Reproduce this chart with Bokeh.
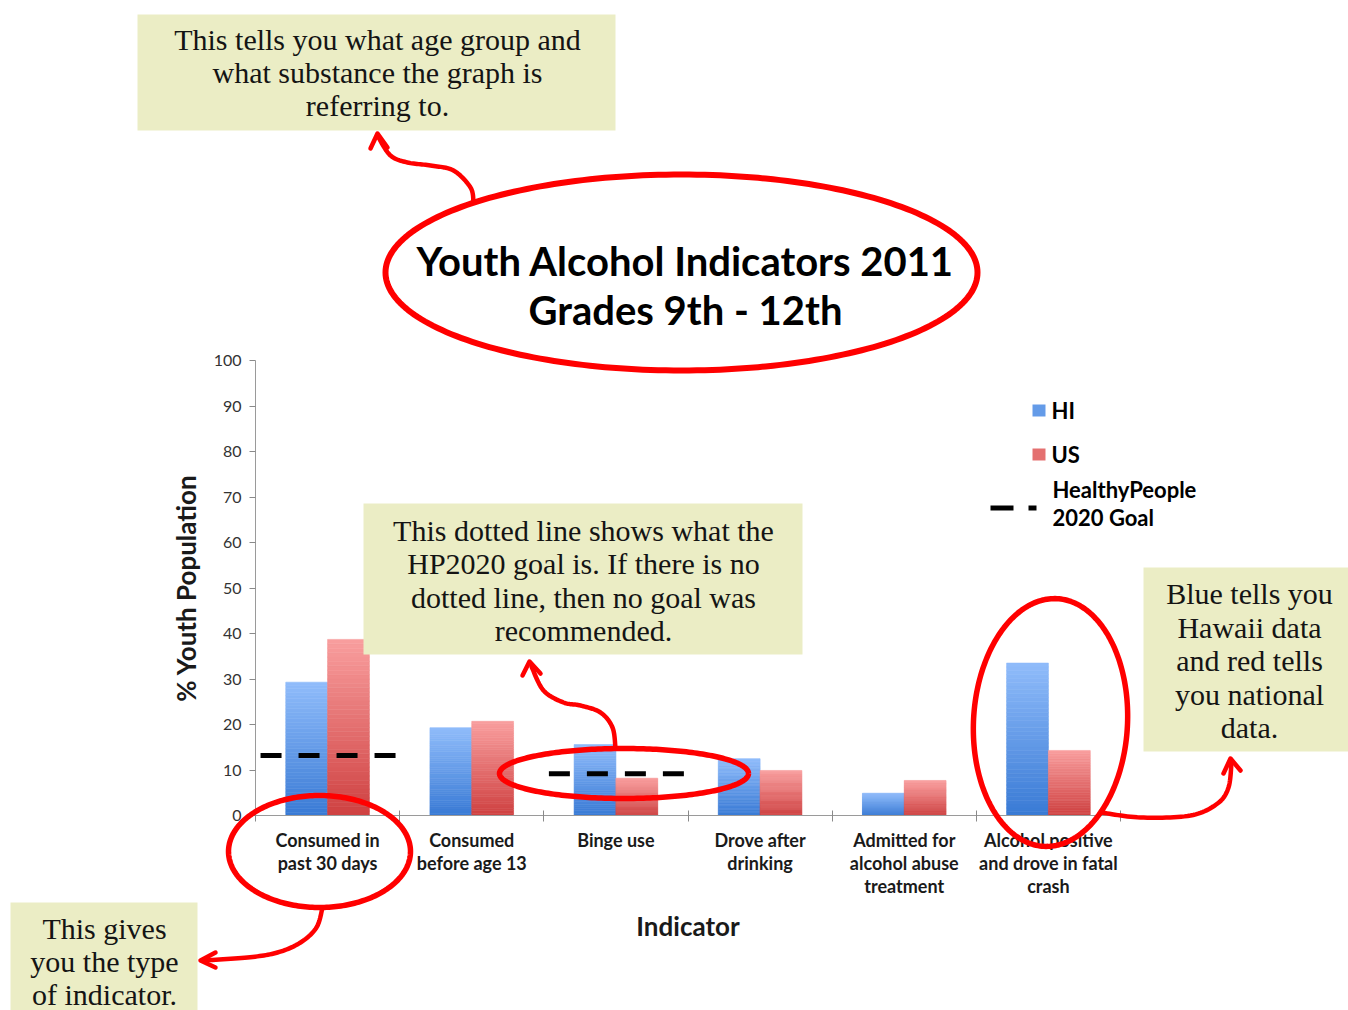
import numpy as np
from bokeh.plotting import figure
from bokeh.models import Range1d, FixedTicker, ColumnDataSource, GridBox
from bokeh.core.properties import value
from bokeh.embed import file_html
from bokeh.resources import INLINE

# ---------------- data ----------------
categories = ["Consumed in\npast 30 days", "Consumed\nbefore age 13", "Binge use",
              "Drove after\ndrinking", "Admitted for\nalcohol abuse\ntreatment",
              "Alcohol positive\nand drove in fatal\ncrash"]
hi_values = [29.3, 19.3, 15.6, 12.5, 4.9, 33.5]
us_values = [38.7, 20.7, 8.2, 9.9, 7.7, 14.3]
goal_values = [13.2, None, 9.2, None, None, None]
y_ticks = [0, 10, 20, 30, 40, 50, 60, 70, 80, 90, 100]
series_names = ["HI", "US"]
goal_name = ["HealthyPeople", "2020 Goal"]
title_lines = ["Youth Alcohol Indicators 2011", "Grades 9th - 12th"]
y_label = "% Youth Population"
x_label = "Indicator"
note_top = ["This tells you what age group and", "what substance the graph is", "referring to."]
note_mid = ["This dotted line shows what the", "HP2020 goal is. If there is no",
            "dotted line, then no goal was", "recommended."]
note_right = ["Blue tells you", "Hawaii data", "and red tells", "you national", "data."]
note_left = ["This gives", "you the type", "of indicator."]

# ---------------- styling ----------------
BLUE_DARK, BLUE_LIGHT = "#3a7bd5", "#8fbbfa"
RED_DARK, RED_LIGHT = "#cf4242", "#f89d9d"
NOTE_BG = "#ebedc5"
RED = "#ff0000"
SANS = "Lato"
SERIF = "Liberation Serif"

W, H = 1348, 1010
FX0, FX1, FY0, FY1 = 255, 1120, 360, 815   # pixel box of the plot frame

n_cat = len(categories)


def mix(c1, c2, t):
    a = [int(c1[i:i + 2], 16) for i in (1, 3, 5)]
    b = [int(c2[i:i + 2], 16) for i in (1, 3, 5)]
    return "#%02x%02x%02x" % tuple(int(round(a[k] + (b[k] - a[k]) * t)) for k in range(3))


# ================= chart figure =================
p = figure(width=W, height=H, x_range=Range1d(-0.5, n_cat - 0.5), y_range=Range1d(0, 100),
           output_backend="svg", toolbar_location=None,
           min_border_left=FX0, min_border_right=W - FX1,
           min_border_top=FY0, min_border_bottom=H - FY1)
p.frame_align = False
p.outline_line_color = None
p.grid.visible = False
p.background_fill_color = "white"
p.border_fill_color = "white"

BAR_W = 0.29
NS = 40


def grad_bars(values, offset, dark, light):
    xs, bots, tops, cols = [], [], [], []
    for i, v in enumerate(values):
        for k in range(NS):
            xs.append(i + offset)
            bots.append(v * k / NS)
            tops.append(v * (k + 1) / NS)
            cols.append(mix(dark, light, k / (NS - 1)))
    src = ColumnDataSource(dict(x=xs, bottom=bots, top=tops, color=cols))
    p.vbar(x="x", bottom="bottom", top="top", width=BAR_W, source=src,
           fill_color="color", line_color="color", line_width=0.6)


grad_bars(hi_values, -BAR_W / 2, BLUE_DARK, BLUE_LIGHT)
grad_bars(us_values, BAR_W / 2, RED_DARK, RED_LIGHT)

gx0, gx1, gy = [], [], []
for i, g in enumerate(goal_values):
    if g is not None:
        gx0.append(i - 0.5 + 0.035)
        gx1.append(i + 0.5 - 0.02)
        gy.append(g)
p.segment(x0=gx0, x1=gx1, y0=gy, y1=gy, line_color="black", line_width=5,
          line_dash="21 17", line_cap="butt")

ax = p.xaxis[0]
ax.ticker = FixedTicker(ticks=list(range(n_cat)), minor_ticks=[i - 0.5 for i in range(n_cat + 1)])
ax.major_label_overrides = {i: c for i, c in enumerate(categories)}
ax.major_tick_line_color = None
ax.major_tick_out = 0
ax.major_tick_in = 0
ax.minor_tick_line_color = "#8a8a8a"
ax.minor_tick_in = 5
ax.minor_tick_out = 6
ax.axis_line_color = "#9a9a9a"
ax.major_label_text_font = SANS
ax.major_label_text_font_style = "bold"
ax.major_label_text_font_size = "18px"
ax.major_label_text_color = "#1a1a1a"
ax.major_label_text_line_height = 1.05
ax.major_label_standoff = 7
ax.axis_label = x_label
ax.axis_label_text_font = SANS
ax.axis_label_text_font_style = "bold"
ax.axis_label_text_font_size = "26px"
ax.axis_label_text_color = "#1a1a1a"
ax.axis_label_standoff = 10

ay = p.yaxis[0]
ay.ticker = FixedTicker(ticks=y_ticks)
ay.minor_tick_line_color = None
ay.major_tick_out = 6
ay.major_tick_in = 0
ay.major_tick_line_color = "#8a8a8a"
ay.axis_line_color = "#9a9a9a"
ay.major_label_text_font = SANS
ay.major_label_text_font_size = "16px"
ay.major_label_text_color = "#333333"
ay.major_label_standoff = 8
ay.axis_label = y_label
ay.axis_label_text_font = SANS
ay.axis_label_text_font_style = "bold"
ay.axis_label_text_font_size = "26px"
ay.axis_label_text_color = "#1a1a1a"
ay.axis_label_standoff = 9

# ================= overlay figure (callouts, title, legend, circles, arrows) =================
q = figure(width=W, height=H, x_range=Range1d(0, W), y_range=Range1d(H, 0),
           output_backend="svg", toolbar_location=None, min_border=0,
           x_axis_location=None, y_axis_location=None)
q.frame_align = False
q.grid.visible = False
q.outline_line_color = None
q.background_fill_color = None
q.border_fill_color = None


def texts(lines, cx, y0, dy, font=SERIF, size="30px", style="normal", align="center",
          color="#141414"):
    q.text(x=[cx] * len(lines), y=[y0 + dy * k for k in range(len(lines))], text=lines,
           text_font=value(font), text_font_size=value(size), text_font_style=style,
           text_align=align, text_baseline="middle", text_color=color)


# note boxes
q.quad(left=[137, 363, 1143, 10], right=[615, 802, W, 197],
       top=[14, 503, 567, 902], bottom=[130, 654, 751, H],
       fill_color=NOTE_BG, line_color=None)
texts(note_top, 377, 39, 33)
texts(note_mid, 583, 530, 33.4)
texts(note_right, 1249, 593, 33.5)
texts(note_left, 104, 928, 33)

# title
texts(title_lines, 685, 260, 49, font=SANS, size="40px", style="bold", color="#000000")

# legend
q.quad(left=[1032, 1032], right=[1045, 1045], top=[404, 448], bottom=[416, 460],
       fill_color=[mix(BLUE_DARK, BLUE_LIGHT, 0.5), mix(RED_DARK, RED_LIGHT, 0.5)],
       line_color=None)
texts(series_names, 1051, 410, 44, font=SANS, size="22px", style="bold", align="left",
      color="#000000")
q.quad(left=[990, 1028], right=[1013, 1036], top=[505, 505], bottom=[510, 510],
       fill_color="black", line_color=None)
texts(goal_name, 1052, 489, 28, font=SANS, size="22px", style="bold", align="left",
      color="#000000")


def smooth(pts, n=14):
    P = np.array(pts, float)
    P = np.vstack([P[0], P, P[-1]])
    out = []
    for i in range(1, len(P) - 2):
        p0, p1, p2, p3 = P[i - 1], P[i], P[i + 1], P[i + 2]
        for t in np.linspace(0, 1, n, endpoint=False):
            out.append(0.5 * (2 * p1 + (-p0 + p2) * t + (2 * p0 - 5 * p1 + 4 * p2 - p3) * t * t
                              + (-p0 + 3 * p1 - 3 * p2 + p3) * t ** 3))
    out.append(P[-2])
    out = np.array(out)
    return out[:, 0], out[:, 1]


def ellipse(cx, cy, a, b, rot=0.0, width=5.5):
    t = np.linspace(0, 2 * np.pi, 241)
    r = np.deg2rad(rot)
    xs = cx + a * np.cos(t) * np.cos(r) - b * np.sin(t) * np.sin(r)
    ys = cy + a * np.cos(t) * np.sin(r) + b * np.sin(t) * np.cos(r)
    q.line(xs, ys, line_color=RED, line_width=width, line_join="round")


def arrow(pts, tip, a1, a2, width=4.5):
    xs, ys = smooth(pts)
    q.line(xs, ys, line_color=RED, line_width=width, line_cap="round", line_join="round")
    q.line([a1[0], tip[0], a2[0]], [a1[1], tip[1], a2[1]], line_color=RED, line_width=width,
           line_cap="round", line_join="round")


ellipse(681, 272, 296, 98, width=6)
ellipse(319, 851, 91, 56)
ellipse(623.5, 773, 124.5, 25)
ellipse(1050, 722, 77, 124, rot=3)

arrow([(473, 202), (470, 187), (453, 170), (430, 165), (407, 162), (390, 155), (378, 137)],
      (377, 133), (370, 148), (387, 147))
arrow([(615, 748), (612, 727), (600, 712), (580, 705), (563, 702), (543, 690), (531, 666)],
      (529, 661), (522, 675), (540, 673))
arrow([(322, 907), (316, 927), (300, 942), (277, 952), (247, 957), (202, 960)],
      (200, 960), (215, 952), (215, 967))
arrow([(1101, 812), (1140, 817), (1190, 815), (1217, 803), (1228, 787), (1231, 762)],
      (1230, 758), (1223, 773), (1240, 770))

layout = GridBox(children=[(p, 0, 0), (q, 0, 0)])
open("out.html", "w").write(file_html(layout, INLINE))
